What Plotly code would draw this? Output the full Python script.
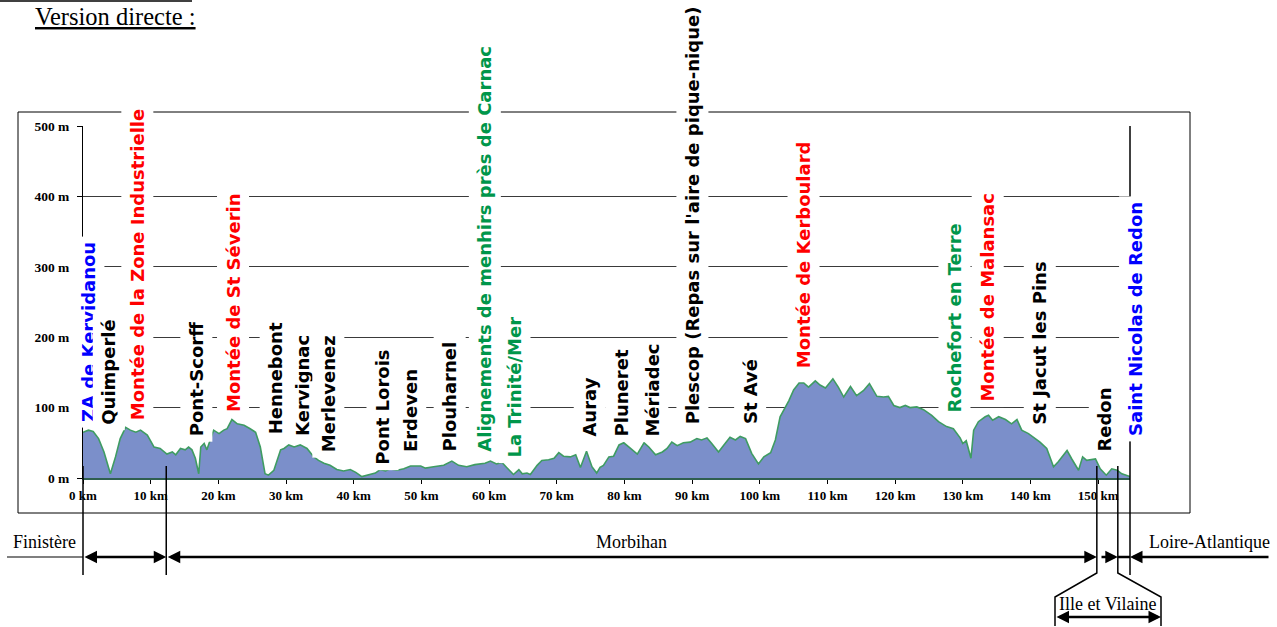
import plotly.graph_objects as go

# profil altimétrique : distance (km) / altitude (m)
DIST_KM = [
    0.0, 0.8, 1.5, 2.3, 3.1, 3.6, 4.05, 4.8, 5.5, 6.3, 7.0, 7.8, 8.5, 9.5, 10.5,
    11.4, 12.4, 13.2, 13.7, 14.4, 15.1, 15.6, 16.1, 16.6, 17.1, 17.4, 17.9, 18.3,
    19.3, 20.1, 20.8, 21.3, 22.0, 22.8, 23.8, 24.7, 25.5, 26.2, 26.9, 27.4, 28.2,
    29.2, 29.7, 30.4, 31.2, 32.1, 33.1, 34.1, 34.8, 35.6, 36.5, 37.5, 38.5, 39.5,
    40.3, 41.2, 42.2, 43.2, 43.9, 44.7, 45.4, 46.4, 47.4, 48.4, 49.9, 50.6, 51.8,
    53.3, 54.5, 55.5, 56.7, 57.9, 59.4, 60.2, 61.1, 61.9, 62.6, 63.6, 64.4, 64.9,
    65.6, 66.1, 67.1, 67.8, 68.8, 69.6, 70.3, 71.0, 72.0, 72.8, 73.5, 74.4, 75.2,
    75.9, 76.4, 76.9, 77.7, 78.4, 79.2, 79.9, 80.9, 81.9, 82.9, 83.6, 84.6, 85.6,
    86.3, 87.0, 87.8, 88.7, 89.7, 90.7, 91.4, 92.2, 92.9, 93.9, 94.7, 95.6, 96.4,
    97.1, 97.9, 98.8, 99.8, 100.6, 101.6, 102.3, 103.0, 103.5, 104.3, 105.0, 105.8,
    106.5, 107.2, 108.2, 108.9, 109.7, 110.8, 111.6, 112.4, 113.4, 114.3, 115.3,
    116.2, 117.3, 118.3, 119.0, 119.8, 120.7, 121.5, 122.2, 123.2, 124.2, 125.4,
    126.4, 127.6, 128.6, 129.6, 130.0, 130.5, 131.2, 131.6, 132.3, 133.3, 133.8,
    134.4, 135.3, 136.3, 137.2, 138.0, 138.7, 139.7, 140.7, 141.4, 142.4, 143.4,
    144.1, 145.4, 146.1, 147.1, 147.7, 148.3, 149.6, 150.3, 151.2, 152.0, 152.8,
    153.5, 154.7,
]
ALT_M = [
    65, 68, 66, 56, 37, 20, 6, 30, 56, 72, 68, 65, 68, 61, 44,
    42, 34, 37, 33, 42, 40, 44, 40, 28, 6, 44, 49, 40,
    68, 63, 68, 70, 83, 77, 75, 70, 65, 44, 6, 4, 11,
    40, 42, 47, 44, 47, 42, 30, 25, 21, 18, 12, 10, 12,
    8, 2, 4, 7, 12, 10, 13, 11, 13, 17, 17, 14, 16,
    18, 24, 18, 16, 19, 21, 24, 20, 22, 15, 5, 12, 6,
    7, 5, 18, 25, 26, 28, 36, 31, 30, 33, 15, 38, 16,
    7, 15, 18, 30, 31, 47, 50, 42, 34, 50, 44, 33, 37,
    42, 51, 46, 50, 51, 56, 54, 57, 49, 37, 47, 58, 54,
    59, 56, 35, 20, 30, 36, 54, 87, 96, 110, 125, 135,
    135, 129, 138, 132, 128, 141, 129, 115, 130, 117, 124,
    134, 116, 115, 116, 103, 100, 103, 100, 101, 97, 89,
    80, 73, 70, 57, 49, 53, 28, 68, 80, 87, 89,
    82, 87, 83, 77, 83, 68, 63, 56, 51, 42, 16,
    23, 39, 27, 11, 30, 25, 27, 13, 4, 13, 11,
    6, 2,
]

# étiquettes du parcours
PLACES = [
    "ZA de Kervidanou", "Quimperlé", "Montée de la Zone Industrielle", "Pont-Scorff",
    "Montée de St Séverin", "Hennebont", "Kervignac", "Merlevenez", "Pont Lorois",
    "Erdeven", "Plouharnel", "Alignements de menhirs près de Carnac", "La Trinité/Mer",
    "Auray", "Pluneret", "Mériadec", "Plescop (Repas sur l'aire de pique-nique)",
    "St Avé", "Montée de Kerboulard", "Rochefort en Terre", "Montée de Malansac",
    "St Jacut les Pins", "Redon", "Saint Nicolas de Redon",
]
PLACE_KM = [
    0.74, 3.84, 7.98, 16.7, 22.2, 28.4, 32.4, 36.2, 44.3, 48.3, 54.2, 59.4, 63.8,
    74.9, 79.6, 84.1, 90.0, 98.6, 106.4, 128.8, 133.7, 141.4, 151.0, 155.4,
]
PLACE_ALT = [
    78, 75, 80, 58, 92, 61, 58, 36, 18, 36, 36, 36, 28,
    58, 58, 57, 75, 75, 154, 92, 107, 75, 36, 58,
]
PLACE_KIND = [
    "etape", "ville", "montee", "ville", "montee", "ville", "ville", "ville", "ville",
    "ville", "ville", "site", "site", "ville", "ville", "ville", "ville", "ville",
    "montee", "site", "montee", "ville", "ville", "etape",
]

DEPTS = ["Finistère", "Morbihan", "Ille et Vilaine", "Loire-Atlantique"]
DEPT_LIMITS_KM = [0, 12.3, 149.8, 152.9, 154.7]

Y_TICKS = [0, 100, 200, 300, 400, 500]
X_TICKS = list(range(0, 151, 10))

KIND_COLORS = {"etape": "#0000ff", "montee": "#ff0000", "site": "#00964a", "ville": "#000000"}

W, H = 1277, 627
L, T, R, B = 83, 126, 147, 149
PW, PH = W - L - R, H - T - B
X_MAX = DIST_KM[-1]
Y_MAX = Y_TICKS[-1]
SERIF = "Liberation Serif, Times New Roman, serif"
LABEL_FONT = "DejaVu Sans, sans-serif"


def fx(px):
    return (px - L) / PW


def fy(py):
    return (T + PH - py) / PH


def kx(km):
    # position papier d'une distance (axe x de 0 à X_MAX sur toute la largeur)
    return km / X_MAX


fig = go.Figure()
fig.add_trace(
    go.Scatter(
        x=DIST_KM,
        y=ALT_M,
        mode="lines",
        fill="tozeroy",
        fillcolor="#7b8fca",
        line=dict(color="#3f9c62", width=1.6),
        hoverinfo="skip",
    )
)

shapes = []
line_k = dict(color="black", width=1.5)
# cadre et trait du haut de page
shapes.append(dict(type="rect", xref="paper", yref="paper", x0=fx(18), x1=fx(1190),
                   y0=fy(513), y1=fy(112), line=dict(color="black", width=1)))
shapes.append(dict(type="line", xref="paper", yref="paper", x0=fx(0), x1=fx(192),
                   y0=fy(1), y1=fy(1), line=dict(color="black", width=1.5)))
# bord droit du graphique
shapes.append(dict(type="line", xref="paper", yref="paper", x0=1, x1=1,
                   y0=1, y1=fy(575), line=line_k))
# limites de départements
for km in DEPT_LIMITS_KM[:2]:
    shapes.append(dict(type="line", xref="paper", yref="paper", x0=kx(km), x1=kx(km),
                       y0=fy(466), y1=fy(575), line=line_k))
a, b = kx(DEPT_LIMITS_KM[2]), kx(DEPT_LIMITS_KM[3])
shapes.append(dict(type="path", xref="paper", yref="paper", line=line_k,
                   path=f"M{a},{fy(466)} L{a},{fy(573)} L{fx(1055)},{fy(597)} L{fx(1055)},{fy(626)}"))
shapes.append(dict(type="path", xref="paper", yref="paper", line=line_k,
                   path=f"M{b},{fy(466)} L{b},{fy(573)} L{fx(1161)},{fy(597)} L{fx(1161)},{fy(626)}"))
# petits traits horizontaux
shapes.append(dict(type="line", xref="paper", yref="paper", x0=fx(7), x1=kx(0),
                   y0=fy(557), y1=fy(557), line=dict(color="black", width=1.2)))
shapes.append(dict(type="line", xref="paper", yref="paper", x0=b, x1=kx(DEPT_LIMITS_KM[4]),
                   y0=fy(557), y1=fy(557), line=dict(color="black", width=2.5)))

annotations = []


def arrow(x0, x1, y, both=True):
    annotations.append(dict(
        x=x1, y=y, xref="paper", yref="paper", text="",
        showarrow=True, axref="pixel", ayref="pixel", ax=(x0 - x1) * PW, ay=0,
        arrowhead=2, arrowsize=1, arrowwidth=2.5, arrowcolor="black",
        arrowside="end+start" if both else "end", standoff=0, startstandoff=0,
    ))


lim = [kx(v) for v in DEPT_LIMITS_KM]
arrow(lim[0], lim[1], fy(557))
arrow(lim[1], lim[2], fy(557))
arrow(fx(1100), lim[3], fy(557), both=False)
arrow(fx(1270), lim[4], fy(557), both=False)
arrow(fx(1055), fx(1161), fy(617))

dept_pos = [
    (fx(44), fy(542)),
    ((lim[1] + lim[2]) / 2, fy(542)),
    ((fx(1055) + fx(1161)) / 2, fy(604)),
    (fx(1209), fy(542)),
]
for name, (x, y) in zip(DEPTS, dept_pos):
    annotations.append(dict(x=x, y=y, xref="paper", yref="paper", text=name,
                            xanchor="center", yanchor="middle", showarrow=False,
                            font=dict(family=SERIF, size=18, color="black")))

annotations.append(dict(x=fx(33), y=fy(16), xref="paper", yref="paper",
                        text="<u>Version directe :</u>", showarrow=False,
                        xanchor="left", yanchor="middle",
                        font=dict(family=SERIF, size=24.5, color="black")))

# étiquettes verticales sur fond blanc (qui coupe les lignes de grille)
for name, km, alt, kind in zip(PLACES, PLACE_KM, PLACE_ALT, PLACE_KIND):
    annotations.append(dict(
        x=kx(km), y=alt, xref="paper", yref="y", text=f"<b>{name}</b>",
        textangle=-90, xanchor="center", yanchor="bottom", showarrow=False,
        bgcolor="white", borderpad=5, yshift=-5,
        font=dict(family=LABEL_FONT, size=18, color=KIND_COLORS[kind]),
    ))

fig.update_layout(
    width=W, height=H, autosize=False,
    margin=dict(l=L, r=R, t=T, b=B),
    paper_bgcolor="white", plot_bgcolor="white",
    showlegend=False,
    shapes=shapes,
    annotations=annotations,
    xaxis=dict(
        range=[0, X_MAX], tickvals=X_TICKS, ticktext=[f"<b>{v} km</b>" for v in X_TICKS],
        showgrid=False, zeroline=False, showline=True, linecolor="#2f5f4f", linewidth=2,
        ticks="outside", ticklen=4, tickcolor="black",
        tickfont=dict(family=SERIF, size=13, color="black"),
    ),
    yaxis=dict(
        range=[0, Y_MAX], tickvals=Y_TICKS, ticktext=[f"<b>{v} m</b>" for v in Y_TICKS],
        showgrid=True, gridcolor="#3a3a3a", gridwidth=1, zeroline=False,
        showline=True, linecolor="black", linewidth=1, layer="below traces",
        ticks="outside", ticklen=5, tickcolor="black", ticklabelstandoff=5,
        tickfont=dict(family=SERIF, size=13.5, color="black"),
    ),
)

# la page HTML ajoute une marge de 8 px autour de la figure : on la supprime
fig.write_html("out.html", config={"displayModeBar": False},
               post_script="document.body.style.margin='0';")
